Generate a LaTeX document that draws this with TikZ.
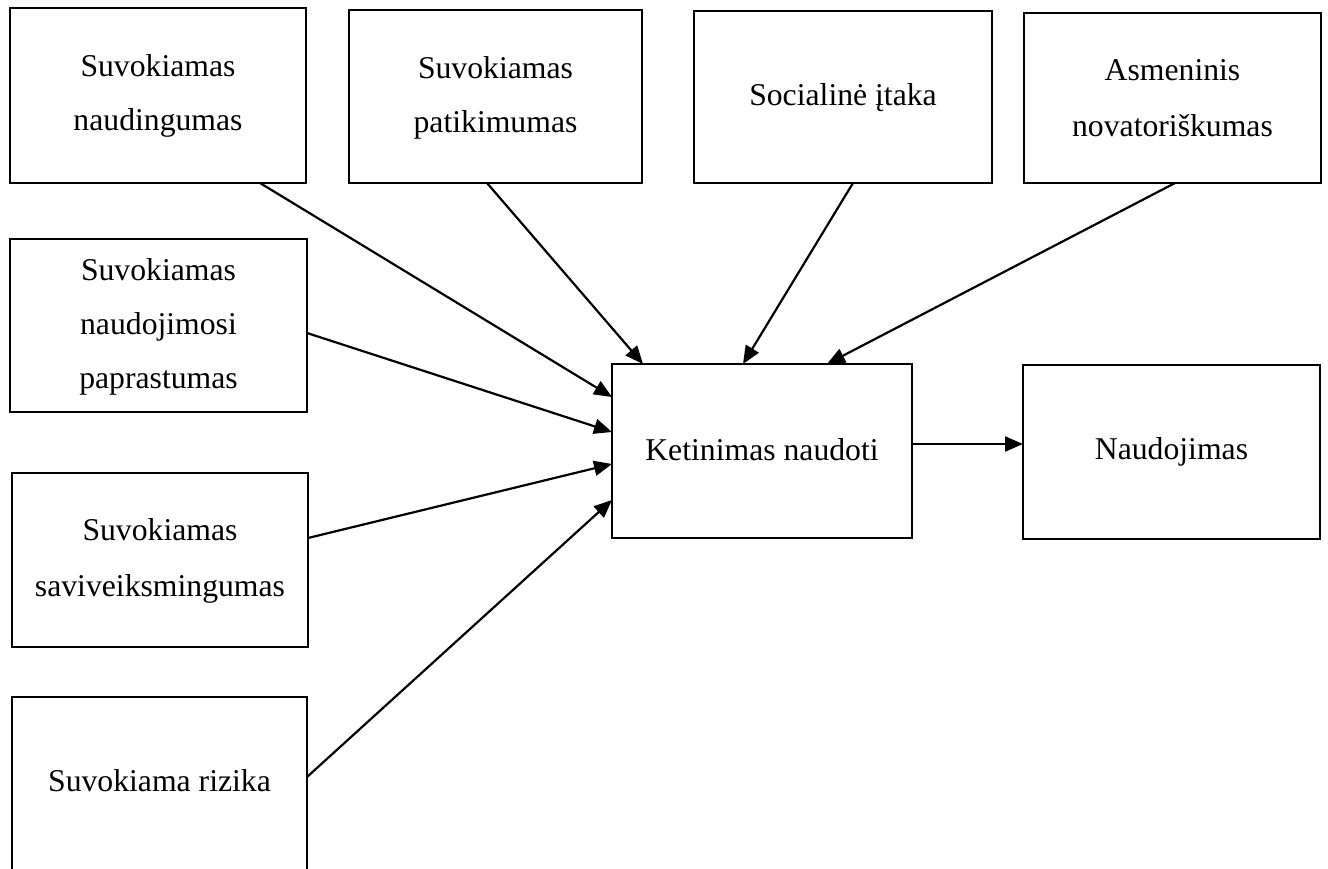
\documentclass[tikz,border=0pt]{standalone}
\usepackage{fontspec}
\setmainfont{Liberation Serif}
\usetikzlibrary{arrows.meta,calc}
\tikzset{
  box/.style={draw=black, line width=2.4pt, rectangle, inner sep=0pt, outer sep=0pt},
  txt/.style={anchor=base, inner sep=0pt, font=\fontsize{31.7}{53.5}\selectfont},
  conn/.style={line width=2.2pt, -{Triangle[length=18pt,width=15pt]}}
}
\begin{document}
\begin{tikzpicture}[x=1pt,y=-1pt]
\useasboundingbox (0,0) rectangle (1328,868);
\fill[white] (0,0) rectangle (1328,868);
% boxes
\node[box, minimum width=296pt, minimum height=175pt] (b1) at (158,95.5) {};
\node[box, minimum width=293pt, minimum height=173pt] (b2) at (495.5,96.5) {};
\node[box, minimum width=298pt, minimum height=172pt] (b3) at (843,97) {};
\node[box, minimum width=297pt, minimum height=170pt] (b4) at (1172.5,98) {};
\node[box, minimum width=297pt, minimum height=173pt] (b5) at (158.5,325.5) {};
\node[box, minimum width=296pt, minimum height=174pt] (b6) at (160,560) {};
\node[box, minimum width=295pt, minimum height=178pt] (b7) at (159.5,786) {};
\node[box, minimum width=300pt, minimum height=174pt] (k) at (762,451) {};
\node[box, minimum width=297pt, minimum height=174pt] (n) at (1171.5,452) {};
% texts
\node[txt] (t1a) at (158,76) {Suvokiamas};
\node[txt] (t1b) at (158,130) {naudingumas};
\node[txt] (t2a) at (495.5,78) {Suvokiamas};
\node[txt] (t2b) at (495.5,132) {patikimumas};
\node[txt] (t3) at (843,105) {Socialinė įtaka};
\node[txt] (t4a) at (1172.5,80) {Asmeninis};
\node[txt] (t4b) at (1172.5,136) {novatoriškumas};
\node[txt] (t5a) at (158.5,280) {Suvokiamas};
\node[txt] (t5b) at (158.5,334) {naudojimosi};
\node[txt] (t5c) at (158.5,388) {paprastumas};
\node[txt] (t6a) at (160,540) {Suvokiamas};
\node[txt] (t6b) at (160,596) {saviveiksmingumas};
\node[txt] (t7) at (159.5,791) {Suvokiama rizika};
\node[txt] (tk) at (762,460) {Ketinimas naudoti};
\node[txt] (tn) at (1171.5,459) {Naudojimas};
% connectors
\draw[conn] ($(b1.south west)+(250,0)$) -- ($(k.north west)+(0,33)$);
\draw[conn] ($(b2.south west)+(138,0)$) -- ($(k.north west)+(31,0)$);
\draw[conn] ($(b3.south west)+(159,0)$) -- ($(k.north west)+(131,0)$);
\draw[conn] ($(b4.south west)+(151,0)$) -- ($(k.north west)+(215,0)$);
\draw[conn] ($(b5.north east)+(0,94)$) -- ($(k.north west)+(0,68)$);
\draw[conn] ($(b6.north east)+(0,65)$) -- ($(k.north west)+(0,100)$);
\draw[conn] ($(b7.north east)+(0,80)$) -- ($(k.north west)+(0,136)$);
\draw[conn] ($(k.north east)+(0,80)$) -- ($(n.north west)+(0,79)$);
\end{tikzpicture}
\end{document}
